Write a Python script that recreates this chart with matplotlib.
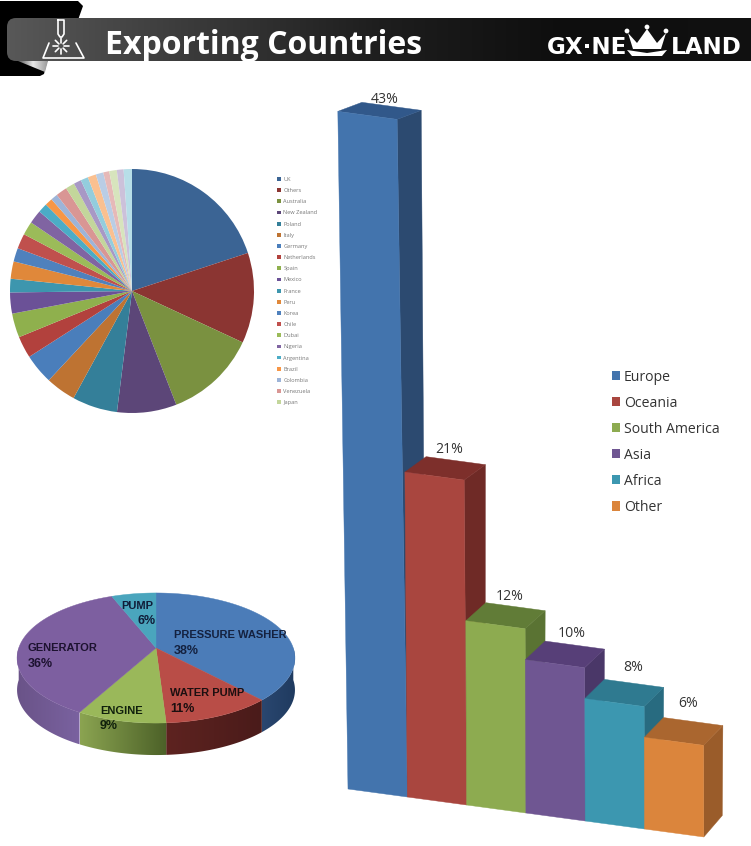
import numpy as np
import matplotlib
matplotlib.use('Agg')
import matplotlib.pyplot as plt
from matplotlib.patches import Polygon, FancyBboxPatch, Patch, Circle
from matplotlib.colors import LinearSegmentedColormap

# data
title = 'Exporting Countries'

region_names = ['Europe', 'Oceania', 'South America', 'Asia', 'Africa', 'Other']
region_values = [43, 21, 12, 10, 8, 6]
region_front = ['#4374ad', '#a9463f', '#8dab50', '#6f5692', '#3c97b0', '#db853c']
region_top = ['#31588a', '#7d2f2b', '#617c37', '#573f78', '#2f7a90', '#aa662f']
region_side = ['#2c4a70', '#6f2a26', '#5a7333', '#4a3768', '#286b80', '#9a5c2a']

country_names = ['UK', 'Others', 'Australia', 'New Zealand', 'Poland', 'Italy', 'Germany',
                 'Netherlands', 'Spain', 'Mexico', 'France', 'Peru', 'Korea', 'Chile',
                 'Dubai', 'Nigeria', 'Argentina', 'Brazil', 'Colombia', 'Venezuela', 'Japan']
country_values = [20, 12, 12.2, 7.9, 6, 4, 4, 2.9, 3.2, 2.8, 1.8, 2.3, 1.8, 2, 1.8, 1.8,
                  1.25, 1, 0.9, 1.5, 1.2, 1, 1, 1.1, 1, 0.8, 1, 0.9, 1.1]
country_colors = ['#3b6494', '#8b3532', '#7a9140', '#5c4678', '#347f99', '#be7332',
                  '#4a7ebb', '#b2413d', '#8fb04d', '#6b5197', '#3d96ae', '#e0883a',
                  '#4f81bd', '#c0504d', '#9bbb59', '#8064a2', '#4bacc6', '#f79646',
                  '#9db4d8', '#d99694', '#c3d69b', '#a898c5', '#93cddd', '#fac090',
                  '#b9cde5', '#e6b9b8', '#d7e4bd', '#ccc1da', '#b7dee8']

product_names = ['PRESSURE WASHER', 'WATER PUMP', 'ENGINE', 'GENERATOR', 'PUMP']
product_values = [38, 11, 9, 36, 6]
product_top = ['#4b7cb8', '#b94d47', '#9ab85a', '#7d5fa0', '#4aa5bd']
# side wall colour at the right and left end of each slice
product_side = [('#1f3a5f', '#2a4770'), ('#4a1b1a', '#5e2320'), ('#4c6128', '#8ba451'),
                ('#7a62a0', '#6a5388'), None]
product_text = [(174, 635, 174, 651), (170, 693, 170, 709), (100, 711, 100, 726),
                (28, 648, 28, 664), (121, 606, 137, 621)]
product_ink = ['#14213f', '#1c0f10', '#10200c', '#1d1230', '#101c38']

plt.rcParams['font.family'] = ['Open Sans', 'DejaVu Sans']

fig = plt.figure(figsize=(7.51, 8.46), dpi=100)
ax = fig.add_axes([0, 0, 1, 1])


def px(n):
    return n * 0.72


# header ---------------------------------------------------------------
def gradient(extent, colors, clip=None, zorder=2):
    cmap = LinearSegmentedColormap.from_list('g', colors)
    im = ax.imshow(np.linspace(0, 1, 256).reshape(1, -1), extent=extent, cmap=cmap,
                   aspect='auto', zorder=zorder, interpolation='bilinear')
    if clip is not None:
        im.set_clip_path(clip)
    return im


ax.add_patch(Polygon([(0, 1), (78, 1), (83, 6), (78, 20), (47, 62), (44, 74), (40, 76), (0, 76)],
                     fc='black', ec='none', zorder=1))
band = FancyBboxPatch((7, 18), 760, 43, boxstyle='round,pad=0,rounding_size=9', fc='none',
                      ec='none', zorder=2)
ax.add_patch(band)
gradient((7, 751, 61, 18), ['#585858', '#3a3a3a', '#1e1e1e', '#0e0e0e', '#111111'], clip=band)
curl = Polygon([(18, 61), (48, 61), (45, 72)], fc='none', ec='none', zorder=3)
ax.add_patch(curl)
gradient((18, 48, 72, 61), ['#555555', '#e8e8e8', '#999999'], clip=curl, zorder=3)

icon = dict(color='white', lw=1.2, zorder=4, solid_capstyle='round')
ax.plot([58, 58, 60, 62, 64, 64, 58], [20, 34, 37, 37, 34, 20, 20], **icon)
ax.plot([49, 43, 84, 76], [43, 58, 58, 43], **icon)
for a in np.arange(0, 360, 45):
    ax.plot([61 + 3 * np.cos(np.radians(a)), 61 + 8 * np.cos(np.radians(a))],
            [46 + 3 * np.sin(np.radians(a)), 46 + 8 * np.sin(np.radians(a))], **icon)

ax.text(105, 45, title, color='white', fontsize=px(32), fontweight='bold', va='center', zorder=5)
ax.text(547, 47, 'GX·NE', color='white', fontsize=px(23), fontweight='bold', va='center',
        family='DejaVu Sans', zorder=5)
ax.text(671, 47, 'LAND', color='white', fontsize=px(23), fontweight='bold', va='center',
        family='DejaVu Sans', zorder=5)
ax.add_patch(Polygon([(628, 33), (637, 43), (647, 29), (657, 43), (666, 33), (661, 49), (633, 49)],
                     fc='white', ec='none', zorder=5))
ax.add_patch(Polygon([(627, 50), (647, 53), (667, 50), (662, 56), (632, 56)], fc='white', ec='none',
                     zorder=5))
for bx, by in [(627, 31), (647, 27), (666, 31)]:
    ax.add_patch(Circle((bx, by), 2.4, fc='white', ec='none', zorder=5))


# 3d bars --------------------------------------------------------------
def project(i, v, d=0.0):
    # bar slot i, value v, depth d -> picture position
    x = 348 + 59.3 * i - 0.0055 * v ** 2 + d * (18.5 + 0.13 * v)
    y = 789 + 8.0 * i - 15.2 * v - 0.013 * v ** 2 + d * (-21.5 + 0.29 * v)
    return x, y


label_shift = [(-7, -7), (-7, -11), (-6, -10), (-3, -12), (-1, -16), (-5, -18)]
for i, v in enumerate(region_values):
    side = [project(i + 1, 0), project(i + 1, 0, 1), project(i + 1, v, 1), project(i + 1, v)]
    top = [project(i, v), project(i + 1, v), project(i + 1, v, 1), project(i, v, 1)]
    front = [project(i, 0), project(i + 1, 0), project(i + 1, v), project(i, v)]
    z = 6 + i
    ax.add_patch(Polygon(side, fc=region_side[i], ec=region_side[i], lw=0.3, zorder=z))
    ax.add_patch(Polygon(top, fc=region_top[i], ec=region_top[i], lw=0.3, zorder=z))
    ax.add_patch(Polygon(front, fc=region_front[i], ec=region_front[i], lw=0.3, zorder=z))
    lx, ly = project(i + 0.5, v, 1)
    ax.text(lx + label_shift[i][0], ly + label_shift[i][1], f'{v}%', color='#333333',
            fontsize=px(14), ha='center', va='center', zorder=14)

ax.legend([Patch(fc=c, ec='none') for c in region_front], region_names, loc='upper left',
          bbox_to_anchor=(599, 357), bbox_transform=ax.transData, frameon=False,
          fontsize=px(14), labelcolor='#333333', handlelength=0.62, handleheight=0.62,
          handletextpad=0.25, labelspacing=0.79)


# 3d product pie -------------------------------------------------------
cx, apex_y, half_w, half_h, tilt, wall = 156, 648, 137.3, 63.5, 0.1538, 32


def rim(a):
    # circle seen in perspective: far side is squeezed
    w = 1 + tilt * np.cos(a)
    return cx + half_w * np.sin(a) / w, apex_y - half_h * np.cos(a) / w


edges = np.radians(np.cumsum([0] + product_values) * 3.6)
for k in range(len(product_values)):
    a0, a1 = edges[k], edges[k + 1]
    xs, ys = rim(np.linspace(a0, a1, 60))
    ax.add_patch(Polygon([(cx, apex_y)] + list(zip(xs, ys)), fc=product_top[k], ec=product_top[k],
                         lw=0.3, zorder=3))
    # wall only where the rim faces the viewer
    lo, hi = max(a0, np.pi / 2), min(a1, 3 * np.pi / 2)
    if hi > lo and product_side[k] is not None:
        wx, wy = rim(np.linspace(lo, hi, 60))
        wall_path = Polygon(list(zip(wx, wy)) + list(zip(wx[::-1], wy[::-1] + wall)), fc='none',
                            ec='none', zorder=2)
        ax.add_patch(wall_path)
        gradient((wx.max(), wx.min(), 846, 0), list(product_side[k]), clip=wall_path, zorder=2)
    tx, ty, vx, vy = product_text[k]
    ax.text(tx, ty, product_names[k], color=product_ink[k], fontsize=px(11.1), fontweight='bold',
            family='Liberation Sans', va='center', zorder=4)
    ax.text(vx, vy, f'{product_values[k]}%', color=product_ink[k], fontsize=px(12.5),
            fontweight='bold', family='Liberation Sans', va='center', zorder=4)

ax.set_xlim(0, 751)
ax.set_ylim(846, 0)
ax.axis('off')

# country pie ----------------------------------------------------------
pie_x, pie_y, pie_r = 132, 291, 122
pie_ax = fig.add_axes([(pie_x - pie_r) / 751, 1 - (pie_y + pie_r) / 846,
                       2 * pie_r / 751, 2 * pie_r / 846])
wedges, _ = pie_ax.pie(country_values, colors=country_colors, startangle=90, counterclock=False,
                       radius=1, wedgeprops=dict(linewidth=0))
pie_ax.set_xlim(-1, 1)
pie_ax.set_ylim(-1, 1)

fig.legend(wedges[:len(country_names)], country_names, loc='upper left',
           bbox_to_anchor=(277 / 751, 1 - 177 / 846), frameon=False, fontsize=px(5.6),
           labelcolor='#777777', handlelength=0.65, handleheight=0.65,
           handletextpad=0.5, labelspacing=1.1, borderpad=0, borderaxespad=0)

fig.savefig('out.png', dpi=100, facecolor='white')
